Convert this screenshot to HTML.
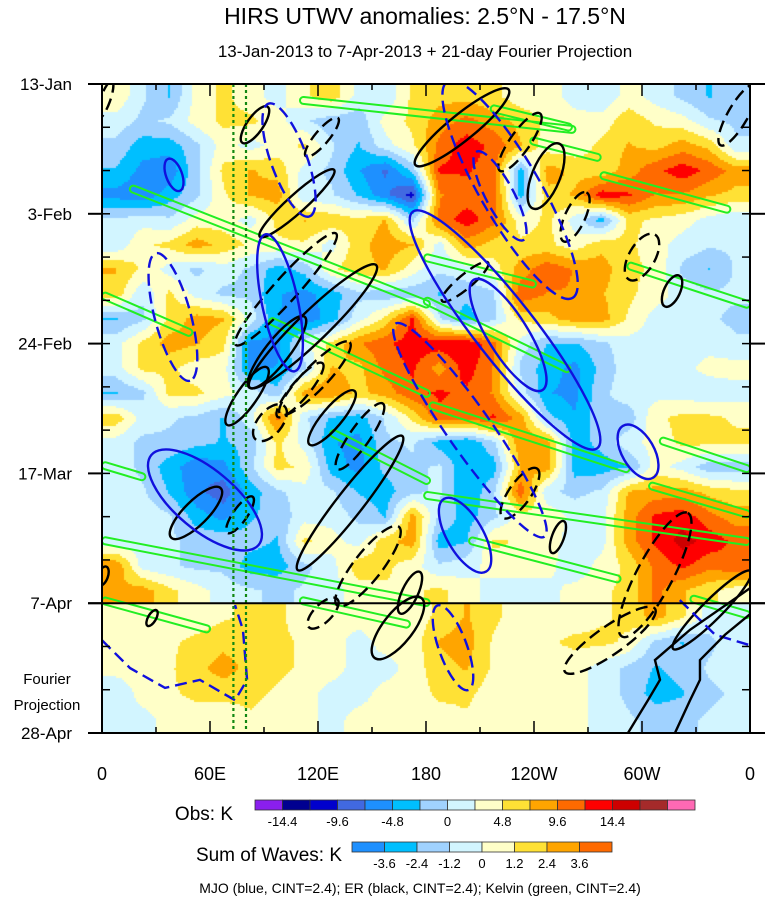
<!DOCTYPE html>
<html><head><meta charset="utf-8"><style>
html,body{margin:0;padding:0;background:#fff;}
#wrap{position:relative;width:770px;height:899px;overflow:hidden;font-family:"Liberation Sans",sans-serif;}
canvas{position:absolute;left:102px;top:84px;}
svg{position:absolute;left:0;top:0;}
</style></head><body>
<div id="wrap">
<canvas id="fld" width="648" height="649"></canvas>
<svg id="ov" width="770" height="899"></svg>
</div>
<script>
// ---- data ----
const dateLabels=["13-Jan","3-Feb","24-Feb","17-Mar","7-Apr","28-Apr"];
const lonLabels=["0","60E","120E","180","120W","60W","0"];
const obsTicks=["-14.4","-9.6","-4.8","0","4.8","9.6","14.4"];
const waveTicks=["-3.6","-2.4","-1.2","0","1.2","2.4","3.6"];
const obsRows=[
[2,-2,-5,1,3,1,-1,2,4,-1,-2,3,4,4,3,1,1,-1,-2,1,-1,-3,-5,-3],
[-1,-3,-2,1,3,3,1,-2,-4,-4,1,3,6,8,6,4,2,1,1,4,2,1,-2,-3],
[-3,-6,-6,-3,1,-1,1,3,-2,-5,-1,2,8,11,9,5,1,1,3,5,4,6,4,-2],
[-5,-8,-9,-3,3,5,4,-1,-3,-7,-10,-4,10,10,8,-6,6,4,3,6,9,11,9,6],
[-8,-9,-6,-3,2,5,6,-2,-2,-5,-9,-13,7,8,9,-6,4,5,11,10,7,7,5,4],
[-2,-1,-2,1,1,-1,3,5,4,3,5,-3,8,11,8,1,3,-1,-6,3,2,1,-1,-2],
[-2,2,3,6,4,2,2,2,-1,4,6,5,-1,6,4,3,3,1,4,3,1,-1,-2,-2],
[5,2,-1,-3,-1,-3,-6,-4,2,4,5,1,-2,-1,1,6,9,7,6,3,2,-3,-5,-2],
[4,-2,3,-1,-3,-3,-7,-8,-6,-3,-4,-4,-5,-4,-3,9,7,7,5,3,1,-1,-2,-2],
[-5,-3,3,6,5,-1,-7,-9,-6,-1,3,10,-2,-6,-3,3,4,6,6,2,-1,-1,-2,-3],
[-1,3,6,5,3,-8,-8,-1,3,7,9,11,11,12,8,-1,-5,-5,-3,-1,-1,-1,-1,-2],
[-1,3,3,1,1,-8,-7,-3,5,4,8,10,6,11,7,-3,-6,-8,-4,-1,-1,-1,1,1],
[-5,-3,3,3,1,-1,-4,6,7,4,6,9,10,9,7,-1,-7,-8,-3,-1,-1,-1,-2,-1],
[4,-1,-2,-3,-5,-1,8,-2,-5,-6,-2,3,9,8,10,6,-4,-7,-3,-4,2,3,3,2],
[-1,-3,-3,-4,-5,-4,3,-1,-7,-8,-3,-2,-6,-7,-3,7,6,-6,-4,-1,1,3,3,3],
[-1,-3,-6,-9,-8,-3,3,2,-6,-8,-4,-3,-2,-7,-6,5,6,-6,-6,-5,1,-1,-4,-4],
[-1,-2,-5,-9,-11,-6,-3,-1,-2,-5,-6,-3,-2,-7,-3,9,-2,-3,-2,5,6,6,4,3],
[-1,-1,-2,-6,-8,-5,-4,-1,-1,-3,-5,6,-3,-6,-3,1,2,-1,-1,6,10,11,8,6],
[-2,-1,-2,-3,-3,-4,-5,3,1,-1,4,6,-6,-5,3,2,1,-1,-1,6,10,13,11,9],
[7,-1,-2,-3,-3,-6,-6,-3,-1,4,3,1,-2,-1,1,2,1,-2,1,3,8,10,8,9],
[5,6,3,1,-1,-2,-3,-2,-1,1,2,2,3,1,-1,-2,-1,1,2,3,8,5,3,1]
];
const projRows=[
[0.5,0.5,0.5,0.5,1,1.5,1.5,0.5,0.5,0.5,0.5,0.5,1.5,2.5,1.5,0.5,0.5,0.5,1,1.5,3,1.5,-0.5,-0.5],
[0.5,0.5,1,1.5,2,1.5,1.5,1,0.5,-0.5,0.5,0.5,2.5,3,1,0.5,1,1.5,1.5,1,-1.5,-2.5,-1.5,-0.5],
[0.5,0.5,1,2,3,2,1.5,1,0.5,-0.5,-0.5,0.5,2,2.5,1,0.5,0.5,0.5,-0.5,-1.5,-2.5,-2,-1,-0.5],
[-1,0.5,1,1.5,1.5,1.5,1,0.5,-0.5,-0.5,0.5,0.5,1.5,1.5,0.5,0.5,0.5,0.5,-0.5,-1.5,-3,-2.5,-1.5,-1],
[-0.5,-0.5,0.5,0.5,0.5,1,0.5,0.5,-0.5,0.5,0.5,0.5,0.5,1,0.5,0.5,0.5,0.5,-0.5,-1,-1.5,-1.5,-1,-0.5]
];
// MJO ellipses: [lon, day, semiMajorPx, semiMinorPx, angle, dashed]
const mjoEll=[[103.9,12.3,60,18,70,1],[40,14.7,17,8,70,0],[39.4,37.7,66,18,75,1],[98.9,35.4,70,18,78,0],
[223.9,39.8,150,30,52,0],[225.6,40.6,65,20,58,0],[226.7,17.1,125,30,60,1],[221.1,18.1,50,14,62,1],
[204.4,56,130,22,55,1],[201.7,73,42,18,60,0],[297.8,59.5,30,16,60,0],[57.2,67.3,70,30,40,0],[195,91.2,45,14,70,1]];
const mjoLineLon=[0,15.6,35,54.4,73.9,80.6,78.3,73.9];
const mjoLineDay=[90,94.5,97.7,96.4,99.7,96.4,88.3,84.3];
const mjoLine2Lon=[321,340.6,360];
const mjoLine2Day=[83.5,89.1,90.8];
// ER ellipses
const erEll=[[85,6.6,22,8,-55,0],[122.2,8.6,25,7,-50,1],[108.3,19.3,50,9,-42,0],[200,7,60,13,-39,0],[232.2,9.4,35,10,-55,1],
[246.7,14.9,35,14,-68,0],[262.8,21.5,27,10,-65,1],[300,28,26,13,-60,1],[316.7,33.5,17,8,-65,0],[353.3,5,35,10,-60,1],
[102.2,33.2,75,12,-48,1],[117.2,39.2,88,15,-44,0],[97.2,43.4,45,12,-52,0],[118.3,47.6,50,12,-46,1],[110,49.5,35,9,-50,1],
[80.6,50.5,35,10,-55,0],[127.8,54,35,10,-50,0],[93.3,54.8,22,12,-50,1],[143.3,57,40,10,-55,1],[137.8,67.8,85,13,-52,0],
[147.8,78,50,14,-52,1],[52.2,69.4,35,12,-45,0],[76.7,69.7,22,7,-55,1],[171.1,82.3,23,8,-65,0],[164.4,88,38,15,-52,0],
[122.8,85.6,20,9,-45,1],[27.8,86.4,9,4,-60,0],[232.2,66.2,30,11,-55,1],[253.3,73.3,17,6,-70,0],[307.2,79.4,70,18,-62,1],
[282.2,90,55,14,-35,1],[201.7,32,30,7,-40,1],[338.9,85.1,55,10,-45,0],[1.7,2.6,20,5,-70,1],[0.5,79.6,10,5,-70,0]];
const erLine1Lon=[292.2,303.3,310,307.2,326.7,362.8];
const erLine1Day=[105,99.7,96.4,93.2,88.3,81];
const erLine2Lon=[318.3,326.7,332.2,332.2,346.1,362.8];
const erLine2Day=[105,99.7,96.4,93.2,89.1,85.1];
// Kelvin strips: [lon1,day1,lon2,day2]
const kelvin=[[110,2.6,263,7.4],[216,3.9,261,7.1],[238,9.1,277,12],[277,14.7,349,20.4],[292,29.3,360,35.8],
[179,28,241,32.5],[179,34.9,260,46.3],[15.6,16.8,182,35.8],[0,34.1,50,40.4],[93,38.2,182,50.3],[127,56.3,182,64.4],
[182,51.9,293,62.4],[179,66.5,360,74.1],[310,57.6,360,62.4],[204,73.8,288,80.2],[0,73.8,182,84],[0,83.5,60,88.3],
[304,64.9,360,69.7],[110,83.5,171,87.5],[327,83.2,360,86],[0,61.6,24,63.7]];
const obsColors=["#8a1fee","#000090","#0000cd","#4169e1","#1e90ff","#00bfff","#a0d2ff","#d2f5ff","#ffffc8","#ffe135","#ffa500","#ff6a00","#ff0000","#cd0000","#a52a2a","#ff69b4"];
const waveColors=["#1e90ff","#00bfff","#a0d2ff","#d2f5ff","#ffffc8","#ffe135","#ffa500","#ff6a00"];

// ---- axes ----
const X0=102,X1=750,Y0=84,Y1=733,DAYS=105;
const X=lon=>X0+lon*(X1-X0)/360;
const Y=day=>Y0+day*(Y1-Y0)/DAYS;

// ---- field ----
const cv=document.getElementById('fld'),ctx=cv.getContext('2d');
function bil(rows,gx,gy){
  const nr=rows.length,nc=rows[0].length;
  gx=Math.max(0,Math.min(nc-1,gx));gy=Math.max(0,Math.min(nr-1,gy));
  const i=Math.min(nc-2,Math.floor(gx)),j=Math.min(nr-2,Math.floor(gy));const fx=gx-i,fy=gy-j;
  return rows[j][i]*(1-fx)*(1-fy)+rows[j][i+1]*fx*(1-fy)+rows[j+1][i]*(1-fx)*fy+rows[j+1][i+1]*fx*fy;
}
const obsH=Y(84)-Y0, cw=(X1-X0)/24;
for(let py=0;py<649;py+=2){
  for(let px=0;px<648;px+=2){
    let col;
    if(py<obsH){
      const v=bil(obsRows,(px+1)/cw-0.5,(py+1)/(obsH/obsRows.length)-0.5);
      let k=Math.floor(v/2.4)+8;k=Math.max(0,Math.min(15,k));col=obsColors[k];
    }else{
      const ph=649-obsH;
      const v=bil(projRows,(px+1)/cw-0.5,(py-obsH+1)/(ph/projRows.length)-0.5);
      let k=Math.floor(v/1.2)+4;k=Math.max(0,Math.min(7,k));col=waveColors[k];
    }
    ctx.fillStyle=col;ctx.fillRect(px,py,2,2);
  }
}

// ---- overlay ----
const NS="http://www.w3.org/2000/svg",svg=document.getElementById('ov');
function mk(tag,attrs,parent){const e=document.createElementNS(NS,tag);for(const k in attrs)e.setAttribute(k,attrs[k]);(parent||svg).appendChild(e);return e;}
const clip=mk('clipPath',{id:'pc'});mk('rect',{x:X0,y:Y0,width:X1-X0,height:Y1-Y0},clip);
const g=mk('g',{'clip-path':'url(#pc)'});



kelvin.forEach(k=>{
  const x1=X(k[0]),y1=Y(k[1]),x2=X(k[2]),y2=Y(k[3]);
  const L=Math.hypot(x2-x1,y2-y1),a=Math.atan2(y2-y1,x2-x1)*180/Math.PI;
  const r=mk('rect',{x:x1,y:y1-3.5,width:L,height:7,rx:3.5,fill:'none',stroke:'#22ee22','stroke-width':2,transform:`rotate(${a} ${x1} ${y1})`},g);
  
  
});
function ell(e,color,name){
  const cx=X(e[0]),cy=Y(e[1]);
  const el=mk('ellipse',{cx:cx,cy:cy,rx:e[2],ry:e[3],fill:'none',stroke:color,'stroke-width':2.4,transform:`rotate(${e[4]} ${cx} ${cy})`},g);
  if(e[5])el.setAttribute('stroke-dasharray','12 6');
  
  
}
function pline(lons,days,color,dash,name){
  const pts=lons.map((l,i)=>X(l)+','+Y(days[i])).join(' ');
  const p=mk('polyline',{points:pts,fill:'none',stroke:color,'stroke-width':2.4},g);
  if(dash)p.setAttribute('stroke-dasharray','12 6');
  
  
}
erEll.forEach(e=>ell(e,'#000','er-contour'));
mjoEll.forEach(e=>ell(e,'#1010dd','mjo-contour'));
pline(mjoLineLon,mjoLineDay,'#1010dd',1,'mjo-contour');
pline(mjoLine2Lon,mjoLine2Day,'#1010dd',1,'mjo-contour');
pline(erLine1Lon,erLine1Day,'#000',0,'er-contour');
pline(erLine2Lon,erLine2Day,'#000',0,'er-contour');

// vertical dotted lines
[73,80].forEach(l=>{const v=mk('line',{x1:X(l),x2:X(l),y1:Y0,y2:Y1,stroke:'#118811','stroke-width':2.2,'stroke-dasharray':'3 3'});
});
// projection start line
const hl=mk('line',{x1:X0-14,x2:X1+15,y1:Y(84),y2:Y(84),stroke:'#000','stroke-width':2});


// frame
const fr=mk('rect',{x:X0,y:Y0,width:X1-X0,height:Y1-Y0,fill:'none',stroke:'#000','stroke-width':2});

// y ticks
for(let d=0;d<=DAYS;d+=7){
  const y=Y(d),maj=d%21===0;
  mk('line',{x1:X0,x2:X0+8,y1:y,y2:y,stroke:'#000','stroke-width':1.5});
  mk('line',{x1:X1-8,x2:X1,y1:y,y2:y,stroke:'#000','stroke-width':1.5});
  if(maj){mk('line',{x1:X0-14,x2:X0,y1:y,y2:y,stroke:'#000','stroke-width':2});mk('line',{x1:X1,x2:X1+15,y1:y,y2:y,stroke:'#000','stroke-width':2});}
}
dateLabels.forEach((t,i)=>{const e=mk('text',{x:72,y:Y(i*21)+6,'text-anchor':'end','font-size':17,fill:'#000'});e.textContent=t;
});
// x ticks
for(let l=0;l<=360;l+=30){
  const x=X(l),len=l%60===0?12:6;
  mk('line',{x1:x,x2:x,y1:Y1-len,y2:Y1,stroke:'#000','stroke-width':1.5});
  mk('line',{x1:x,x2:x,y1:Y0,y2:Y0+len,stroke:'#000','stroke-width':1.5});
}
lonLabels.forEach((t,i)=>{const e=mk('text',{x:X(i*60),y:780,'text-anchor':'middle','font-size':18,fill:'#000'});e.textContent=t;
});
// fourier label
[["Fourier",684],["Projection",710]].forEach(a=>{const e=mk('text',{x:47,y:a[1],'text-anchor':'middle','font-size':15,fill:'#000'});e.textContent=a[0];
});
// titles
let t=mk('text',{x:425,y:24,'text-anchor':'middle','font-size':23,fill:'#000'});t.textContent="HIRS UTWV anomalies: 2.5°N - 17.5°N";

t=mk('text',{x:425,y:57,'text-anchor':'middle','font-size':17,fill:'#000'});t.textContent="13-Jan-2013 to 7-Apr-2013 + 21-day Fourier Projection";

// colorbars
function cbar(colors,ticks,x0,y0,w,h,label,lx,ly,name){
  const bw=w/colors.length;
  colors.forEach((c,i)=>{const r=mk('rect',{x:x0+i*bw,y:y0,width:bw,height:h,fill:c,stroke:'#333','stroke-width':0.8});
  });
  const off=colors.length===16?1:1;
  ticks.forEach((tk,i)=>{const e=mk('text',{x:x0+(i*(colors.length===16?2:1)+off)*bw,y:y0+h+16,'text-anchor':'middle','font-size':13,fill:'#000'});e.textContent=tk;
  });
  const l=mk('text',{x:lx,y:ly,'text-anchor':'end','font-size':19,fill:'#000'});l.textContent=label;
  
}
cbar(obsColors,obsTicks,255,800,440,10,"Obs: K",233,820,'obs-colorbar');
cbar(waveColors,waveTicks,352,842,260,10,"Sum of Waves: K",342,861,'waves-colorbar');
t=mk('text',{x:420,y:893,'text-anchor':'middle','font-size':14,fill:'#000'});t.textContent="MJO (blue, CINT=2.4); ER (black, CINT=2.4); Kelvin (green, CINT=2.4)";

</script>
</body></html>
